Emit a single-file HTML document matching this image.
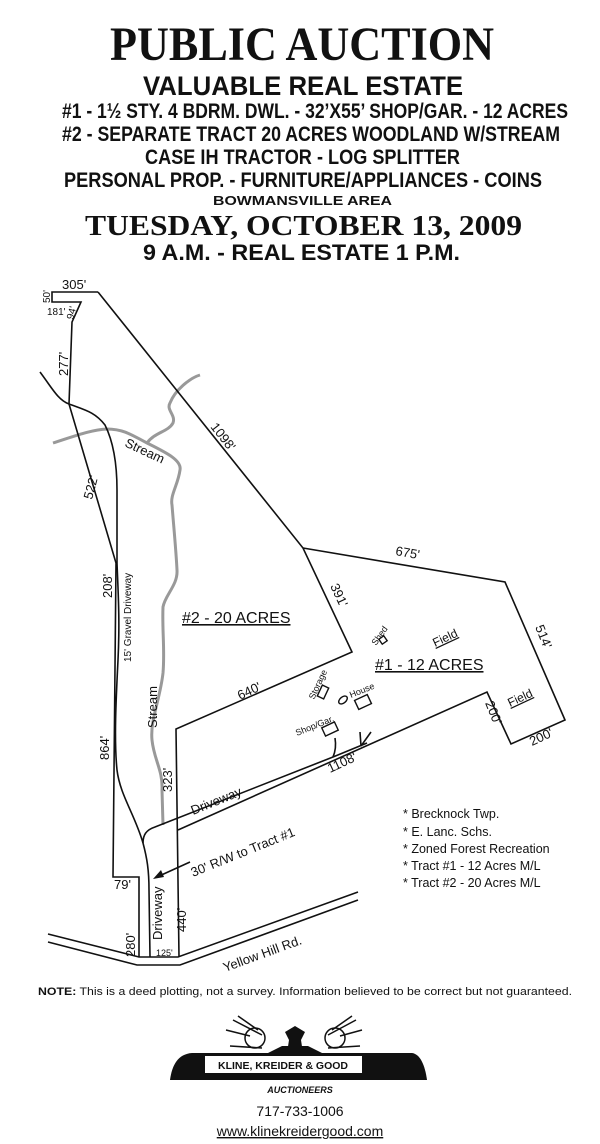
<!DOCTYPE html>
<html><head><style>
html,body{margin:0;padding:0;background:#fff;}
svg{display:block;}
text{font-family:"Liberation Sans",sans-serif;fill:#111;}
.s{font-family:"Liberation Serif",serif;font-weight:bold;}
.b{font-weight:bold;}
</style></head><body>
<svg width="600" height="1144" viewBox="0 0 600 1144" xmlns="http://www.w3.org/2000/svg">
<rect width="600" height="1144" fill="#fff"/>
<!-- Header -->
<text class="s" x="110" y="60" font-size="48" textLength="384" lengthAdjust="spacingAndGlyphs">PUBLIC AUCTION</text>
<text class="b" x="143" y="95" font-size="27" textLength="320" lengthAdjust="spacingAndGlyphs">VALUABLE REAL ESTATE</text>
<text class="b" x="62" y="118" font-size="21" textLength="506" lengthAdjust="spacingAndGlyphs">#1 - 1½ STY. 4 BDRM. DWL. - 32’X55’ SHOP/GAR. - 12 ACRES</text>
<text class="b" x="62" y="141" font-size="21" textLength="498" lengthAdjust="spacingAndGlyphs">#2 - SEPARATE TRACT 20 ACRES WOODLAND W/STREAM</text>
<text class="b" x="145" y="164" font-size="21" textLength="315" lengthAdjust="spacingAndGlyphs">CASE IH TRACTOR - LOG SPLITTER</text>
<text class="b" x="64" y="187" font-size="21" textLength="478" lengthAdjust="spacingAndGlyphs">PERSONAL PROP. - FURNITURE/APPLIANCES - COINS</text>
<text class="b" x="213" y="205" font-size="13" textLength="179" lengthAdjust="spacingAndGlyphs">BOWMANSVILLE AREA</text>
<text class="s" x="85" y="235" font-size="29" textLength="437" lengthAdjust="spacingAndGlyphs">TUESDAY, OCTOBER 13, 2009</text>
<text class="b" x="143" y="260" font-size="22" textLength="317" lengthAdjust="spacingAndGlyphs">9 A.M. - REAL ESTATE 1 P.M.</text>

<!-- Stream -->
<g fill="none" stroke="#999" stroke-width="3" stroke-linejoin="round">
<path d="M53,443 C75,436 90,430 107,429 C125,429 135,437 147,443 C165,452 182,460 180,470 C178,485 170,495 172,505 C174,530 176,550 177,570 C178,585 165,595 163,607 C162,630 165,650 163,673 C160,700 150,720 152,740 C154,760 163,770 162,790 L163,825"/>
<path d="M147,443 C155,432 168,432 173,423 C176,415 166,410 170,403 C175,390 190,378 200,375"/>
</g>
<!-- Boundaries -->
<g fill="none" stroke="#111" stroke-width="1.6" stroke-linejoin="miter">
<path d="M98,292 L52,292 L52,302 L81,302 L72,322 L69,404 L116,563 L113,877 L139,877 L139,957"/>
<path d="M98,292 L303,548 L352,652 L176,729 L179,957"/>
<path d="M303,548 L505,582 L565,720 L511,744 L487,692 L178,830"/>
<!-- driveway gravel -->
<path d="M40,372 C52,388 58,400 69,404 C85,410 95,412 105,425 C115,445 117,470 117,490 L117,563 C118,590 120,620 118,660 C116,700 114,740 117,770 C120,795 135,815 143,843 C147,858 149,870 149,890 L150,957"/>
<!-- driveway east -->
<path d="M143,843 C143,835 146,830 155,827 L333,757 L367,743"/>
<path d="M333,757 C336,750 336,744 335,738"/>
<path d="M361,746 L360,732 M361,746 L371,732"/>
<!-- road -->
<path d="M48,934 L139,957 L178,957 L358,892"/>
<path d="M48,942 L137,965 L180,965 L358,900"/>
<!-- arrow -->
<path d="M190,862 L157,877"/>
</g>
<path d="M153,879 L161,870 L164,877 Z" fill="#111"/>
<!-- buildings -->
<g fill="none" stroke="#111" stroke-width="1.4">
<rect x="-3" y="-3" width="6" height="6" transform="translate(383,640) rotate(-35)"/>
<rect x="-3.5" y="-6" width="7" height="12" transform="translate(323,692) rotate(25)"/>
<ellipse cx="343" cy="700" rx="3" ry="5" transform="rotate(50 343 700)"/>
<rect x="-7" y="-5" width="14" height="10" transform="translate(363,702) rotate(-25)"/>
<rect x="-7" y="-4.5" width="14" height="9" transform="translate(330,729) rotate(-25)"/>
</g>
<!-- map labels -->
<g font-size="12">
<text x="62" y="289" font-size="13">305'</text>
<text transform="translate(50,303) rotate(-90)" font-size="10">50'</text>
<text x="47" y="315" font-size="10">181'</text>
<text transform="translate(73,320) rotate(-75)" font-size="10">94'</text>
<text transform="translate(68,376) rotate(-90)" font-size="13">277'</text>
<text transform="translate(92,500) rotate(-75)" font-size="13">522'</text>
<text transform="translate(210,427) rotate(52)" font-size="13">1098'</text>
<text transform="translate(124,446) rotate(25)" font-size="13">Stream</text>
<text transform="translate(112,598) rotate(-90)" font-size="13">208'</text>
<text transform="translate(131,662) rotate(-90)" font-size="10">15' Gravel Driveway</text>
<text transform="translate(157,728) rotate(-90)" font-size="13">Stream</text>
<text transform="translate(109,760) rotate(-90)" font-size="13">864'</text>
<text transform="translate(172,792) rotate(-90)" font-size="13">323'</text>
<text transform="translate(186,932) rotate(-90)" font-size="13">440'</text>
<text x="114" y="889" font-size="13">79'</text>
<text transform="translate(135,957) rotate(-90)" font-size="13">280'</text>
<text transform="translate(162,940) rotate(-90)" font-size="13">Driveway</text>
<text x="156" y="956" font-size="9">125'</text>
<text transform="translate(193,877) rotate(-22)" font-size="13">30' R/W to Tract #1</text>
<text transform="translate(225,972) rotate(-20)" font-size="13">Yellow Hill Rd.</text>
<text transform="translate(193,815) rotate(-22)" font-size="13">Driveway</text>
<text transform="translate(240,700) rotate(-25)" font-size="13">640'</text>
<text transform="translate(330,773) rotate(-25)" font-size="13">1108'</text>
<text transform="translate(330,586) rotate(65)" font-size="13">391'</text>
<text transform="translate(395,555) rotate(10)" font-size="13">675'</text>
<text transform="translate(535,627) rotate(68)" font-size="13">514'</text>
<text transform="translate(485,703) rotate(68)" font-size="13">200'</text>
<text transform="translate(532,746) rotate(-25)" font-size="13">200'</text>
<text x="182" y="623" font-size="16" text-decoration="underline">#2 - 20 ACRES</text>
<text x="375" y="670" font-size="16" text-decoration="underline">#1 - 12 ACRES</text>
<text transform="translate(435,647) rotate(-25)" font-size="12" text-decoration="underline">Field</text>
<text transform="translate(510,707) rotate(-25)" font-size="12" text-decoration="underline">Field</text>
<text transform="translate(376,646) rotate(-55)" font-size="9">Shed</text>
<text transform="translate(314,700) rotate(-65)" font-size="9">Storage</text>
<text transform="translate(351,698) rotate(-22)" font-size="9">House</text>
<text transform="translate(297,736) rotate(-22)" font-size="9">Shop/Gar.</text>
<text x="403" y="818" font-size="12.5">* Brecknock Twp.</text>
<text x="403" y="836" font-size="12.5">* E. Lanc. Schs.</text>
<text x="403" y="853" font-size="12.5">* Zoned Forest Recreation</text>
<text x="403" y="870" font-size="12.5">* Tract #1 - 12 Acres M/L</text>
<text x="403" y="887" font-size="12.5">* Tract #2 - 20 Acres M/L</text>
</g>
<text x="38" y="995" font-size="11" textLength="534" lengthAdjust="spacingAndGlyphs"><tspan font-weight="bold">NOTE:</tspan> This is a deed plotting, not a survey. Information believed to be correct but not guaranteed.</text>

<!-- Logo -->
<path d="M170,1080 C172,1065 178,1054 192,1053 L412,1053 C420,1054 425,1065 427,1080 Z" fill="#111"/>
<rect x="205" y="1056" width="157" height="17" fill="#fff"/>
<text x="283" y="1069" font-size="10" class="b" text-anchor="middle" textLength="130" lengthAdjust="spacingAndGlyphs">KLINE, KREIDER &amp; GOOD</text>
<g fill="none" stroke="#111" stroke-width="1.5">
<circle cx="255" cy="1038" r="10"/>
<circle cx="335" cy="1038" r="10"/>
<path d="M233,1020 L262,1035 M238,1016 L258,1030 M226,1030 L250,1036 M356,1020 L328,1035 M352,1016 L332,1030 M362,1030 L340,1036 M230,1046 L262,1048 M328,1048 L360,1046"/>
</g>
<path d="M287,1053 L289,1040 L285,1032 L295,1026 L305,1032 L301,1040 L303,1053 Z" fill="#111"/>
<path d="M268,1053 L282,1046 L308,1046 L322,1053 Z" fill="#111"/>
<text x="300" y="1093" font-size="9" class="b" font-style="italic" text-anchor="middle">AUCTIONEERS</text>
<text x="300" y="1116" font-size="14" text-anchor="middle">717-733-1006</text>
<text x="300" y="1136" font-size="14" text-anchor="middle" text-decoration="underline">www.klinekreidergood.com</text>
</svg>
</body></html>
